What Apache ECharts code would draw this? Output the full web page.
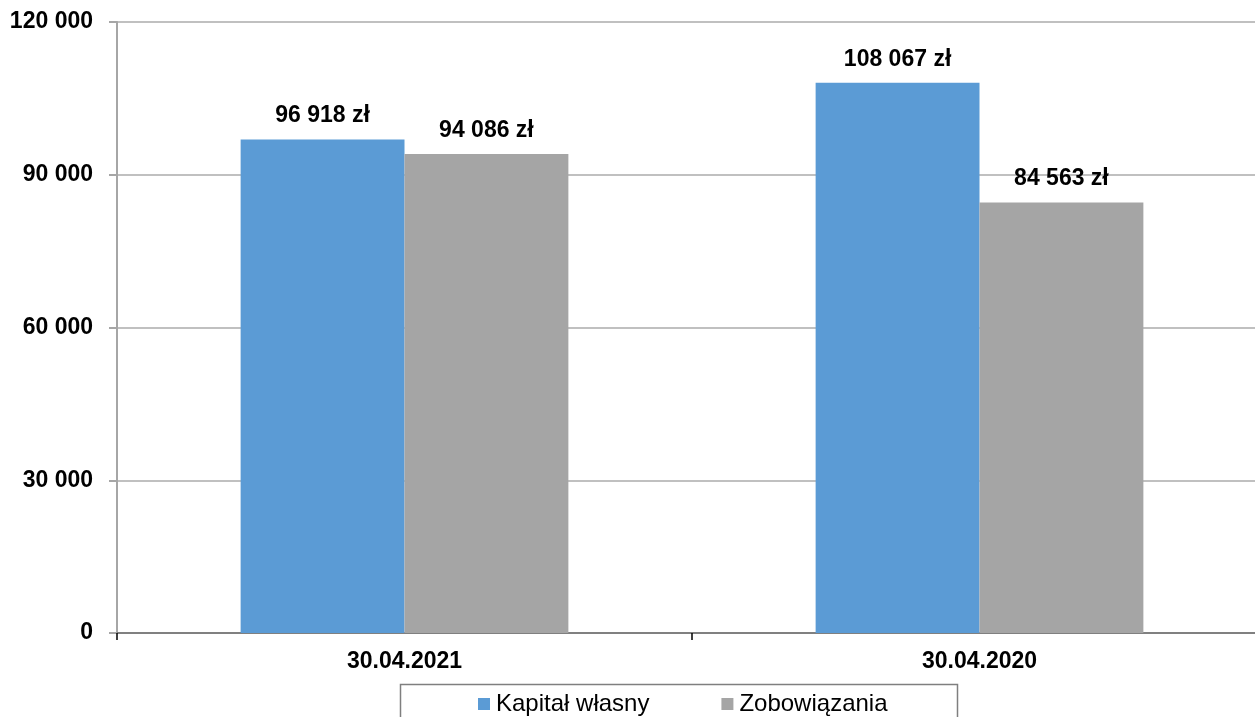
<!DOCTYPE html>
<html>
<head>
<meta charset="utf-8">
<script src="https://cdn.jsdelivr.net/npm/echarts@6/dist/echarts.min.js"></script>
<style>html,body{margin:0;padding:0;background:#fff;overflow:hidden;width:1255px;height:717px}#c{width:1267px;height:717px}</style>
</head>
<body>
<div id="c"></div>
<script>
const categories = ['30.04.2021', '30.04.2020'];
const seriesNames = ['Kapitał własny', 'Zobowiązania'];
const kapital = [96918, 108067];
const zobowiazania = [94086, 84563];
const yTicks = [0, 30000, 60000, 90000, 120000];

function fmt(v) {
  return String(Math.round(v)).replace(/\B(?=(\d{3})+(?!\d))/g, ' ');
}
const FONT = '"Liberation Sans", Arial, sans-serif';
const chart = echarts.init(document.getElementById('c'), null, {renderer: 'canvas'});
const labelStyle = {
  show: true, position: 'top', distance: 12,
  fontFamily: FONT, fontWeight: 'bold', fontSize: 23, color: '#000',
  formatter: p => fmt(p.value) + ' zł'
};
chart.setOption({
  animation: false,
  backgroundColor: '#fff',
  grid: {left: 117, right: 0, top: 22, bottom: 84},
  graphic: [{
    type: 'rect', shape: {x: 400.5, y: 684.5, width: 557, height: 60},
    style: {fill: 'none', stroke: '#7f7f7f', lineWidth: 1.5}, z: 10
  }],
  legend: {
    left: 478, top: 691, itemWidth: 12, itemHeight: 12, itemGap: 72,
    icon: 'rect', padding: 0,
    textStyle: {fontFamily: FONT, fontSize: 24, color: '#000', lineHeight: 26, padding: [0, 0, 0, 1]},
    data: seriesNames
  },
  xAxis: {
    type: 'category', data: categories,
    axisLine: {show: true, lineStyle: {color: '#808080', width: 2}},
    axisTick: {show: true, length: 7, lineStyle: {color: '#000', width: 1.5}},
    axisLabel: {fontFamily: FONT, fontWeight: 'bold', fontSize: 23, color: '#000', margin: 17},
    splitLine: {show: false}
  },
  yAxis: {
    type: 'value', min: yTicks[0], max: yTicks[yTicks.length - 1], interval: yTicks[1] - yTicks[0],
    axisLine: {show: true, lineStyle: {color: '#a6a6a6', width: 2}},
    axisTick: {show: true, length: 8, lineStyle: {color: '#a6a6a6', width: 2}},
    axisLabel: {fontFamily: FONT, fontWeight: 'bold', fontSize: 23, color: '#000', margin: 24, formatter: v => fmt(v)},
    splitLine: {show: true, lineStyle: {color: '#c0c0c0', width: 2}}
  },
  series: [
    {name: seriesNames[0], type: 'bar', data: kapital, barGap: '0%', barCategoryGap: '43%',
     itemStyle: {color: '#5b9bd5'}, label: labelStyle},
    {name: seriesNames[1], type: 'bar', data: zobowiazania, barGap: '0%', barCategoryGap: '43%',
     itemStyle: {color: '#a5a5a5'}, label: labelStyle}
  ]
});
</script>
</body>
</html>
